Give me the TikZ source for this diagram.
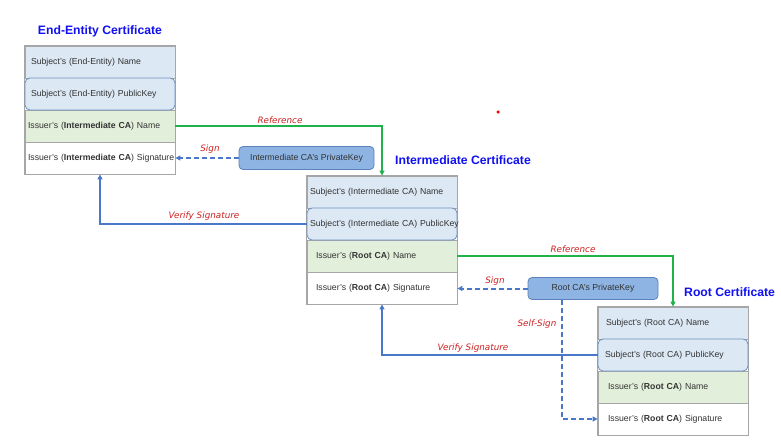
\documentclass[tikz,border=0pt]{standalone}
\usepackage{fontspec}
\setmainfont{Liberation Sans}
\newfontfamily\lblfont{DejaVu Sans}
\usetikzlibrary{arrows.meta,calc,backgrounds}
\definecolor{framegray}{HTML}{A6A6A6}
\definecolor{txtgray}{HTML}{333333}
\definecolor{bluefill}{HTML}{DCE8F4}
\definecolor{greenfill}{HTML}{E2EFDA}
\definecolor{pkborder}{HTML}{6C8EBF}
\definecolor{keyfill}{HTML}{8DB4E2}
\definecolor{keyborder}{HTML}{5B82BA}
\definecolor{refgreen}{HTML}{22B24C}
\definecolor{lineblue}{HTML}{4A78C8}
\definecolor{lblred}{HTML}{CC2020}
\definecolor{titleblue}{HTML}{1010F0}
\newcommand{\cellt}[1]{\mbox{#1}}
\tikzset{
  cell/.style 2 args={draw=framegray, line width=0.8pt, minimum height=32pt, inner ysep=0pt,
    inner xsep=#1, text width=#2, align=left, font=\fontsize{8.7}{10}\selectfont, text=txtgray},
  namecell/.style={fill=bluefill},
  pkcell/.style={fill=bluefill, draw=pkborder, rounded corners=5pt},
  isscell/.style={fill=greenfill},
  sigcell/.style={fill=white},
  frame/.style={draw=framegray, line width=0.8pt},
  title/.style={font=\fontsize{12.2}{14}\selectfont\bfseries, text=titleblue, inner sep=0pt},
  keybox/.style={draw=keyborder, fill=keyfill, rounded corners=4pt, line width=0.8pt,
    font=\fontsize{8.7}{10}\selectfont, text=txtgray, align=center},
  lbl/.style={font=\lblfont\itshape\fontsize{8.8}{10}\selectfont, text=lblred, inner sep=0pt},
  refline/.style={draw=refgreen, line width=1.5pt, -{Triangle[length=5pt,width=5pt]}},
  signline/.style={draw=lineblue, line width=2pt, dash pattern=on 5pt off 3pt, -{Triangle[length=5pt,width=5pt]}},
  verline/.style={draw=lineblue, line width=1.4pt, -{Triangle[length=5pt,width=5pt]}},
}
\begin{document}
\begin{tikzpicture}[x=1pt,y=-1pt]
\useasboundingbox (0,0) rectangle (781,445);

% End-Entity certificate
\node[title] (eetitle) at (100,31) {End-Entity Certificate};
\node[cell={6pt}{138pt}, namecell] (ee1) at (100,62) {\cellt{Subject's (End-Entity) Name}};
\node[cell={3pt}{144pt}, isscell] (ee3) at (100,126) {\cellt{Issuer's (\textbf{Intermediate CA}) Name}};
\node[cell={3pt}{144pt}, sigcell] (ee4) at (100,158) {\cellt{Issuer's (\textbf{Intermediate CA}) Signature}};
\node[cell={6pt}{138pt}, pkcell] (ee2) at (100,94) {\cellt{Subject's (End-Entity) PublicKey}};
\begin{scope}[on background layer]
  \draw[frame] (ee1.north west) rectangle (ee4.south east);
\end{scope}

% Intermediate certificate
\node[title, anchor=west] (inttitle) at (395,160) {Intermediate Certificate};
\node[cell={3pt}{144pt}, namecell] (int1) at (382,192) {\cellt{Subject's (Intermediate CA) Name}};
\node[cell={9pt}{132pt}, isscell] (int3) at (382,256) {\cellt{Issuer's (\textbf{Root CA}) Name}};
\node[cell={9pt}{132pt}, sigcell] (int4) at (382,288) {\cellt{Issuer's (\textbf{Root CA}) Signature}};
\node[cell={3pt}{144pt}, pkcell] (int2) at (382,224) {\cellt{Subject's (Intermediate CA) PublicKey}};
\begin{scope}[on background layer]
  \draw[frame] (int1.north west) rectangle (int4.south east);
\end{scope}

% Root certificate
\node[title, anchor=west] (roottitle) at (684,292) {Root Certificate};
\node[cell={8pt}{134pt}, namecell] (root1) at (673,323) {\cellt{Subject's (Root CA) Name}};
\node[cell={10pt}{130pt}, isscell] (root3) at (673,387) {\cellt{Issuer's (\textbf{Root CA}) Name}};
\node[cell={10pt}{130pt}, sigcell] (root4) at (673,419) {\cellt{Issuer's (\textbf{Root CA}) Signature}};
\node[cell={7pt}{136pt}, pkcell] (root2) at (673,355) {\cellt{Subject's (Root CA) PublicKey}};
\begin{scope}[on background layer]
  \draw[frame] (root1.north west) rectangle (root4.south east);
\end{scope}

% Private keys
\node[keybox, minimum width=135pt, minimum height=23pt] (ikey) at (306.5,158) {Intermediate CA's PrivateKey};
\node[keybox, minimum width=130pt, minimum height=22pt] (rkey) at (593,288.5) {Root CA's PrivateKey};

% Connectors
\draw[refline] (ee3.east) -| (int1.north);
\draw[refline] (int3.east) -| (root1.north);
\draw[signline] (ikey.west) -- (ikey.west -| ee4.east);
\draw[signline] (rkey.west) -- (rkey.west -| int4.east);
\draw[verline] (int2.west) -| (ee4.south);
\draw[verline] (root2.west) -| (int4.south);
\coordinate (ssstart) at ($(rkey.south west)+(34,0)$);
\draw[signline] (ssstart) |- (root4.west);

% Labels
\node[lbl] (lref1) at (280,120) {Reference};
\node[lbl] (lsign1) at (210,149) {Sign};
\node[lbl] (lver1) at (204,216) {Verify Signature};
\node[lbl] (lref2) at (573,249) {Reference};
\node[lbl] (lsign2) at (495,281) {Sign};
\node[lbl] (lver2) at (473,348) {Verify Signature};
\node[lbl] (lself) at (537,324) {Self-Sign};

% stray dot
\node[circle, fill=red, inner sep=0pt, minimum size=3.5pt] (dot) at (498,112) {};
\end{tikzpicture}
\end{document}
